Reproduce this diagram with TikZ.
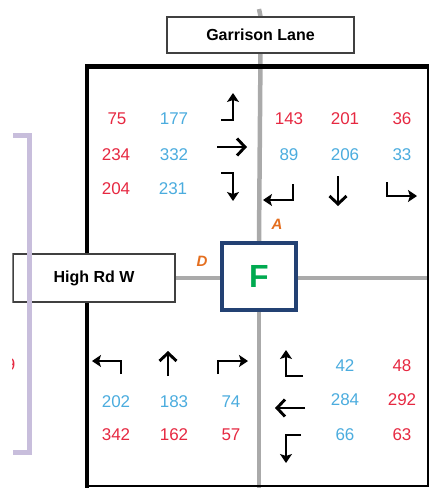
\documentclass[tikz,border=0pt]{standalone}
\usepackage{fontspec}
\setmainfont{Liberation Sans}
\usetikzlibrary{arrows.meta,backgrounds}

\definecolor{volred}{RGB}{230,40,65}
\definecolor{volblue}{RGB}{75,172,222}
\definecolor{roadgray}{RGB}{170,170,170}
\definecolor{legorange}{RGB}{228,110,30}
\definecolor{boxblue}{RGB}{35,65,115}
\definecolor{gradegreen}{RGB}{0,170,80}
\definecolor{bracketlav}{RGB}{200,190,220}

\tikzstyle{road}=[draw=roadgray,line width=4.5pt]
\tikzstyle{streetname}=[draw=black!75,line width=1.2pt,fill=white,inner sep=0pt,font=\bfseries\fontsize{16}{18}\selectfont]
\tikzstyle{vol}=[inner sep=0pt,font=\fontsize{17}{19}\selectfont]
\tikzstyle{vred}=[vol,text=volred]
\tikzstyle{vblue}=[vol,text=volblue]
\tikzstyle{bent}=[line width=2.9pt,-{Stealth[length=9pt,width=12pt,inset=2pt]}]
\tikzstyle{straightmove}=[line width=2.9pt,-{Straight Barb[length=8pt,width=17pt]}]
\tikzstyle{leg}=[inner sep=0pt,text=legorange,font=\bfseries\itshape\fontsize{15}{17}\selectfont]

\begin{document}
\begin{tikzpicture}[x=1pt,y=-1pt]
  \useasboundingbox (0,0) rectangle (429,488);
  \clip (12.3,0) rectangle (429,488);

  \node[streetname,minimum width=187pt,minimum height=36pt] (garrison) at (260.5,35) {Garrison Lane};
  \node[streetname,minimum width=162pt,minimum height=48pt] (highrd) at (94,278) {High Rd W};
  \node[draw=boxblue,line width=4pt,fill=white,minimum width=74pt,minimum height=67pt,
        text=gradegreen,font=\bfseries\fontsize{32}{34}\selectfont] (F) at (259,276.5) {F};

  \coordinate (north end) at (259,9);
  \coordinate (south end) at (259,488);
  \coordinate (east end) at (429,278);

  \begin{scope}[on background layer]
    \draw[road] (north end) -- (garrison.north);
    \draw[road] (garrison.south) -- (F.north);
    \draw[road] (F.south) -- (south end);
    \draw[road] (highrd.east) -- (F.west |- highrd.east);
    \draw[road] (F.east |- east end) -- (east end);
    % area frame, thick on the two open sides
    \draw[line width=1.6pt] (87,66.5) rectangle (428,486);
    \draw[line width=4.5pt] (87,488) -- (87,66.5) -- (429,66.5);
  \end{scope}

  \node[leg] (A) at (277,224) {A};
  \node[leg] (D) at (202,261) {D};

  \foreach \n/\x/\y in {75/117/119, 234/116/155, 204/116/189, 143/289/119, 201/345/119, 36/402/119,
                        342/116/435, 162/174/435, 57/231/435, 48/402/366, 292/402/400, 63/402/435}
    \node[vred] (v\n) at (\x,\y) {\n};
  \foreach \n/\x/\y in {177/174/119, 332/174/155, 231/173/189, 89/289/155, 206/345/155, 33/402/155,
                        202/116/402, 183/174/402, 74/231/402, 42/345/366, 284/345/400, 66/345/435}
    \node[vblue] (v\n) at (\x,\y) {\n};

  % turning movements
  \draw[bent] (221,120) -| (233,93);
  \draw[straightmove] (217,147) -- (247,147);
  \draw[bent] (221,173) -| (233,201);
  \draw[bent] (293,184) |- (263,200);
  \draw[straightmove] (338,176) -- (338,206);
  \draw[bent] (387,182) |- (417,196);
  \draw[bent] (121,374) |- (92,361);
  \draw[straightmove] (168,376) -- (168,351);
  \draw[bent] (218,374) |- (248,361);
  \draw[bent] (303,376) -| (286,350);
  \draw[straightmove] (305,408) -- (275,408);
  \draw[bent] (301,435) -| (286,463);

  \draw[bracketlav,line width=5pt] (13,135) -- (29.5,135) -- (29.5,452) -- (13,452);
  \node[vred] (vcut) at (10.5,365) {9};
\end{tikzpicture}
\end{document}
